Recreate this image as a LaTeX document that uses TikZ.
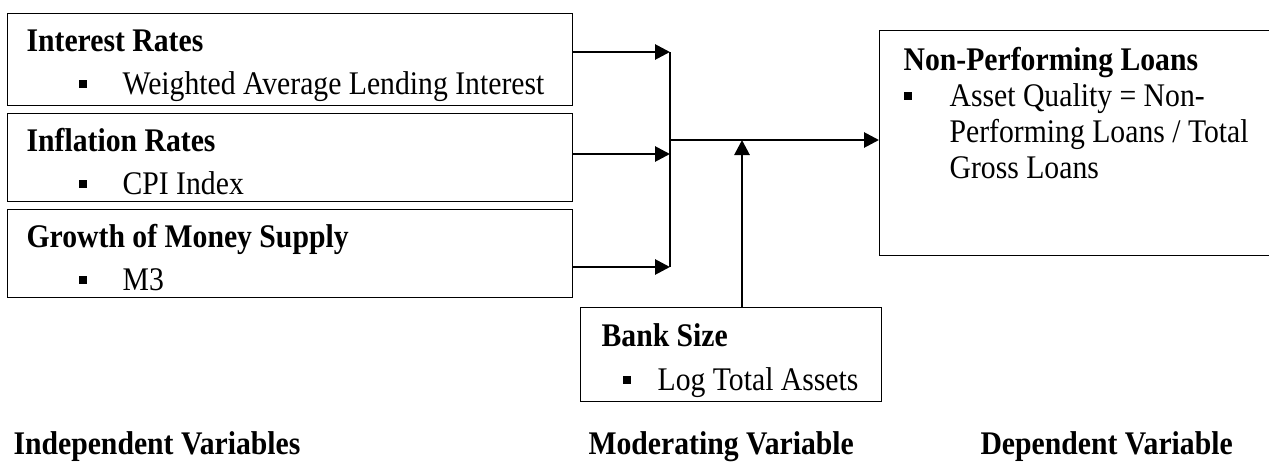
\documentclass[tikz,border=0pt]{standalone}
\usepackage{fontspec}
\setmainfont{Liberation Serif}[FakeStretch=0.9]
\usetikzlibrary{arrows.meta}

\newcommand{\sqbullet}{\rule[7pt]{8pt}{8pt}}
\newcommand{\boxbody}[5]{\begin{minipage}[t][#2][t]{#1}\setlength{\leftskip}{#3}\rule{0pt}{#4}#5\end{minipage}}

\tikzset{
  varbox/.style={draw, line width=1.2pt, anchor=north west, inner sep=0pt},
  feed/.style={line width=2.8pt, -{Triangle[length=15pt,width=15pt]}},
  joint/.style={line width=2pt},
  caption/.style={anchor=base west, font=\fontsize{33}{40}\selectfont\bfseries}
}

\begin{document}
\begin{tikzpicture}[x=1pt,y=-1pt,every node/.style={font=\fontsize{33}{40}\selectfont}]
\clip (0,0) rectangle (1269,463);
% independent variables
\node[varbox] (rates) at (7,13) {\boxbody{565pt}{92pt}{19pt}{38pt}{\textbf{Interest Rates}\\[3pt] \hspace*{52pt}\sqbullet\hspace*{36pt}Weighted Average Lending Interest}};
\node[varbox] (inflation) at (7,113) {\boxbody{565pt}{88pt}{19pt}{38pt}{\textbf{Inflation Rates}\\[3pt] \hspace*{52pt}\sqbullet\hspace*{36pt}CPI Index}};
\node[varbox] (money) at (7,209) {\boxbody{565pt}{88pt}{19pt}{38pt}{\textbf{Growth of Money Supply}\\[3pt] \hspace*{52pt}\sqbullet\hspace*{36pt}M3}};
% moderating variable
\node[varbox] (banksize) at (580,307) {\boxbody{301pt}{94pt}{21pt}{39pt}{\textbf{Bank Size}\\[4pt] \hspace*{21pt}\sqbullet\hspace*{27pt}Log Total Assets}};
% dependent variable
\node[varbox] (npl) at (879,30) {\boxbody{392pt}{225pt}{24pt}{40pt}{\textbf{Non-Performing Loans}\\[-4pt] \sqbullet\hspace*{38pt}Asset Quality = Non-\\[-4pt] \hspace*{46pt}Performing Loans / Total\\[-4pt] \hspace*{46pt}Gross Loans}};

\coordinate (j1) at (670,52);
\coordinate (j2) at (670,154);
\coordinate (j3) at (670,267);
\coordinate (jm) at (670,140);
\coordinate (jb) at (742,140);

\draw[feed] (rates.east |- j1) -- (j1);
\draw[feed] (inflation.east |- j2) -- (j2);
\draw[feed] (money.east |- j3) -- (j3);
\draw[joint] (j1) -- (j3);
\draw[feed] (jm) -- (npl.west |- jm);
\draw[feed] (banksize.north -| jb) -- (jb);

% captions
\node[caption] (lblind) at (10,454) {Independent Variables};
\node[caption] (lblmod) at (585,454) {Moderating Variable};
\node[caption] (lbldep) at (977,454) {Dependent Variable};
\end{tikzpicture}
\end{document}
